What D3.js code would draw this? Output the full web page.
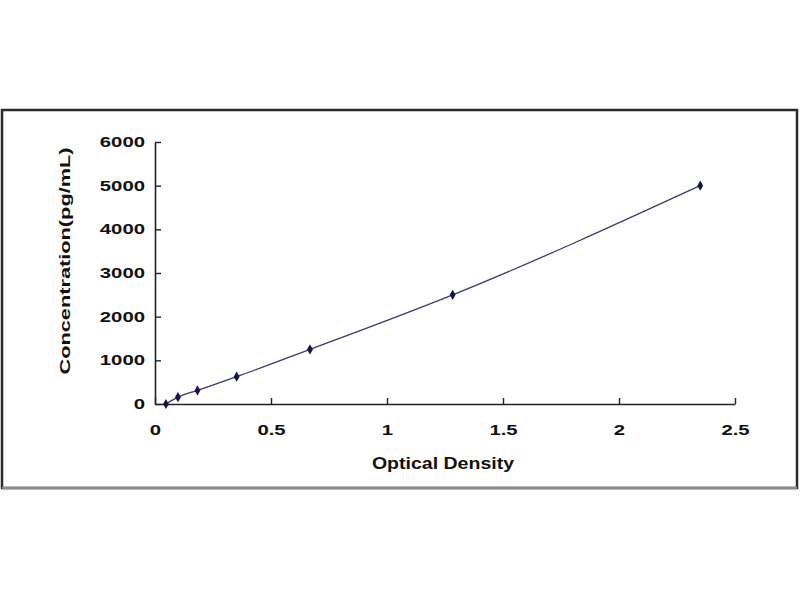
<!DOCTYPE html>
<html>
<head>
<meta charset="utf-8">
<script src="https://cdn.jsdelivr.net/npm/d3@7"></script>
<style>
  body { margin: 0; background: #fff; }
  text { font-family: "Liberation Sans", Arial, sans-serif; font-weight: bold; fill: #111; }
</style>
</head>
<body>
<svg width="800" height="600"></svg>
<script>
// standard curve readings
var od = [0.047, 0.099, 0.183, 0.352, 0.668, 1.283, 2.350];
var conc = [0, 156, 312, 625, 1250, 2500, 5000];
var xTicks = [0, 0.5, 1, 1.5, 2, 2.5];
var yTicks = [0, 1000, 2000, 3000, 4000, 5000, 6000];

var svg = d3.select("svg");

// outer frame
svg.append("rect")
    .attr("x", 2).attr("y", 110)
    .attr("width", 795).attr("height", 378)
    .attr("fill", "#fff")
    .attr("stroke", "#2a2a2a")
    .attr("stroke-width", 2.5);
svg.append("line")
    .attr("x1", 2).attr("x2", 797).attr("y1", 488).attr("y2", 488)
    .attr("stroke", "#8a8a8a").attr("stroke-width", 2.5);

var x = d3.scaleLinear().domain([0, 2.5]).range([155, 735]);
var y = d3.scaleLinear().domain([0, 6000]).range([404, 142]);

// stretch text a bit wider, the source image is blown up horizontally
function stretch(sel, k) {
  sel.each(function() {
    var w = this.getComputedTextLength();
    d3.select(this).attr("textLength", w * k).attr("lengthAdjust", "spacingAndGlyphs");
  });
}

var gx = svg.append("g")
    .attr("transform", "translate(0," + y(0) + ")")
    .call(d3.axisBottom(x).tickValues(xTicks).tickSizeInner(-6).tickSizeOuter(0).tickPadding(21)
      .tickFormat(function(d) { return d; }));
var gy = svg.append("g")
    .attr("transform", "translate(" + x(0) + ",0)")
    .call(d3.axisLeft(y).tickValues(yTicks).tickSizeInner(-6).tickSizeOuter(0).tickPadding(10)
      .tickFormat(d3.format("d")));

[gx, gy].forEach(function(g) {
  g.select(".domain").attr("stroke", "#222").attr("stroke-width", 1.6);
  g.selectAll(".tick line").attr("stroke", "#222").attr("stroke-width", 1.4);
  g.selectAll(".tick text")
    .attr("font-size", 14).attr("font-family", "Liberation Sans, Arial, sans-serif")
    .attr("font-weight", "bold").attr("fill", "#111");
  stretch(g.selectAll(".tick text"), 1.45);
});

svg.append("text")
    .attr("x", 443).attr("y", 469)
    .attr("text-anchor", "middle")
    .attr("font-size", 16)
    .text("Optical Density")
    .call(stretch, 1.22);

svg.append("text")
    .attr("transform", "translate(70,261) rotate(-90)")
    .attr("text-anchor", "middle")
    .attr("font-size", 15)
    .text("Concentration(pg/mL)")
    .call(stretch, 1.45);

var pts = od.map(function(d, i) { return [d, conc[i]]; });

var line = d3.line()
    .x(function(d) { return x(d[0]); })
    .y(function(d) { return y(d[1]); })
    .curve(d3.curveMonotoneX);

svg.append("path")
    .datum(pts)
    .attr("d", line)
    .attr("fill", "none")
    .attr("stroke", "#3b3b6b")
    .attr("stroke-width", 1.3);

svg.selectAll(".pt")
    .data(pts)
    .enter().append("path")
    .attr("class", "pt")
    .attr("transform", function(d) { return "translate(" + x(d[0]) + "," + y(d[1]) + ")"; })
    .attr("d", d3.symbol().type(d3.symbolDiamond).size(30))
    .attr("fill", "#141450");
</script>
</body>
</html>
